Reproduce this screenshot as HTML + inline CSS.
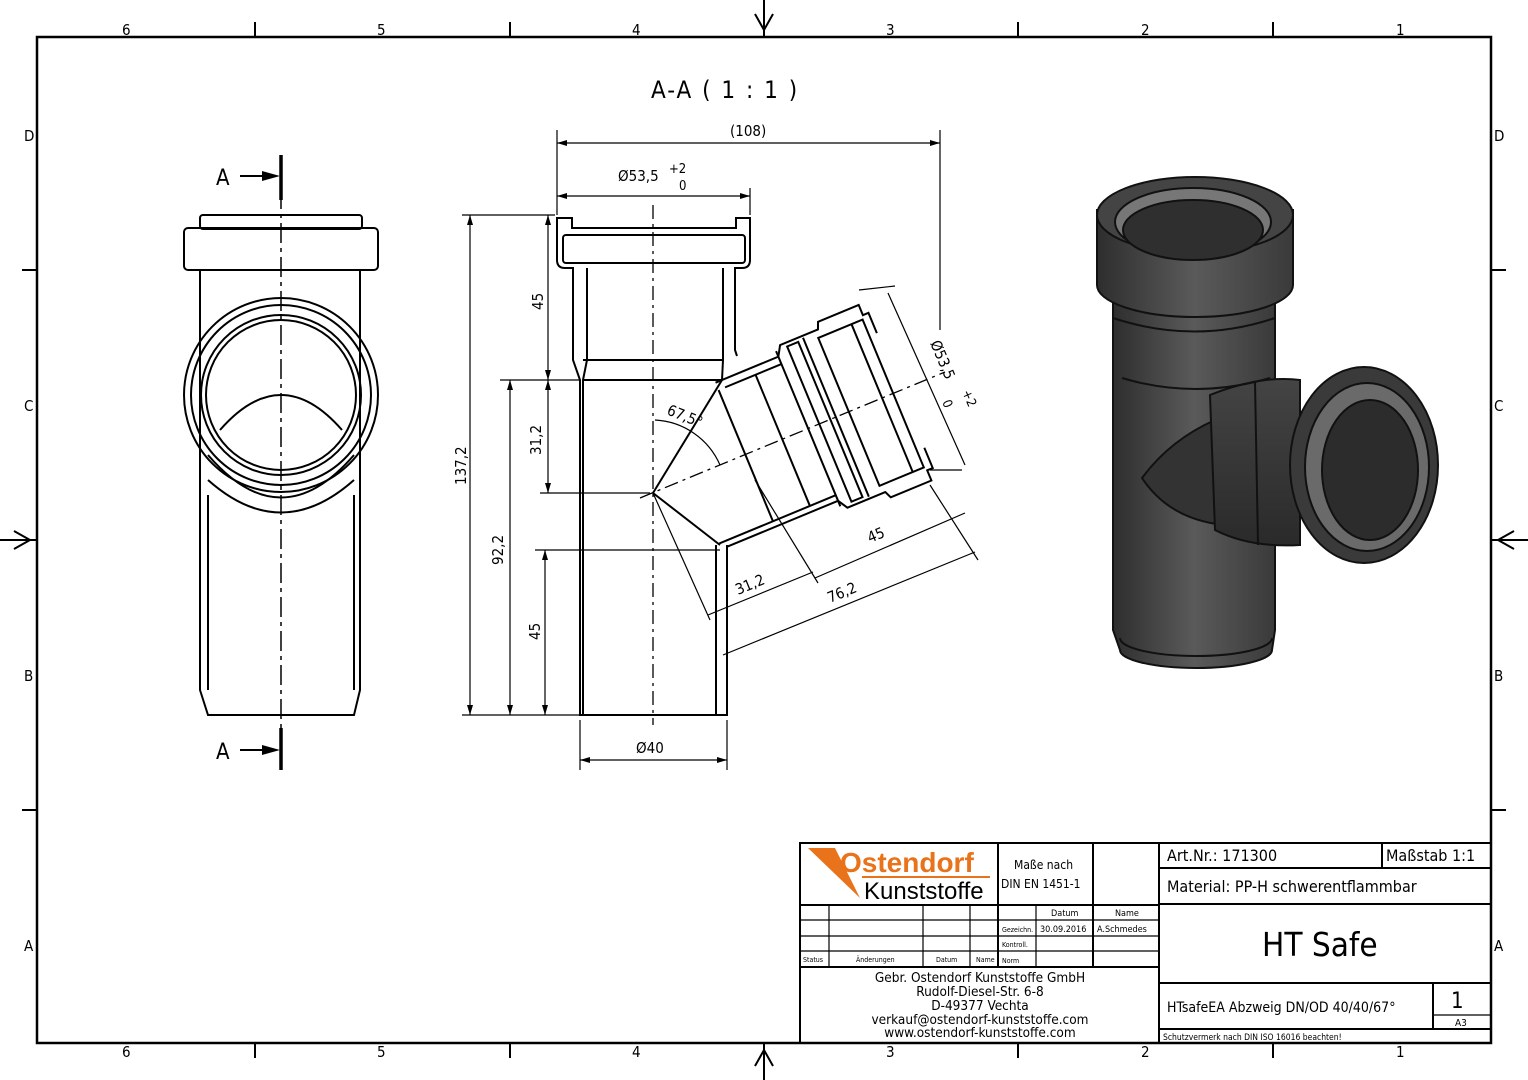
<!DOCTYPE html>
<html><head><meta charset="utf-8"><style>
html,body{margin:0;padding:0;background:#fff;}
svg{display:block;}
text{font-family:"DejaVu Sans Condensed","Liberation Sans",sans-serif;fill:#000;}
</style></head><body>
<svg width="1528" height="1080" viewBox="0 0 1528 1080" xmlns="http://www.w3.org/2000/svg">
<defs>
<linearGradient id="g1" x1="0" x2="1" y1="0" y2="0"><stop offset="0" stop-color="#2e2e2e"/><stop offset="0.5" stop-color="#5a5a5a"/><stop offset="1" stop-color="#3a3a3a"/></linearGradient>
<linearGradient id="g2" x1="0" x2="0" y1="0" y2="1"><stop offset="0" stop-color="#444"/><stop offset="1" stop-color="#2a2a2a"/></linearGradient>
</defs>
<rect x="37" y="37" width="1454" height="1006" fill="none" stroke="#000" stroke-width="2.5"/>
<g stroke="#000" stroke-width="2">
<line x1="255" y1="22" x2="255" y2="37"/><line x1="510" y1="22" x2="510" y2="37"/><line x1="1018" y1="22" x2="1018" y2="37"/><line x1="1273" y1="22" x2="1273" y2="37"/>
<line x1="255" y1="1043" x2="255" y2="1058"/><line x1="510" y1="1043" x2="510" y2="1058"/><line x1="1018" y1="1043" x2="1018" y2="1058"/><line x1="1273" y1="1043" x2="1273" y2="1058"/>
<line x1="22" y1="270" x2="37" y2="270"/><line x1="22" y1="810" x2="37" y2="810"/><line x1="1491" y1="270" x2="1506" y2="270"/><line x1="1491" y1="810" x2="1506" y2="810"/>
<line x1="764" y1="0" x2="764" y2="37"/><line x1="764" y1="1043" x2="764" y2="1080"/>
<line x1="0" y1="540" x2="37" y2="540"/><line x1="1491" y1="540" x2="1528" y2="540"/>
</g>
<g fill="none" stroke="#000" stroke-width="2">
<path d="M755,14 L764,30 L773,14"/><path d="M755,1066 L764,1050 L773,1066"/>
<path d="M14,531 L30,540 L14,549"/><path d="M1514,531 L1498,540 L1514,549"/>
</g>
<g font-size="15">
<text x="122" y="35">6</text><text x="377" y="35">5</text><text x="632" y="35">4</text><text x="886" y="35">3</text><text x="1141" y="35">2</text><text x="1396" y="35">1</text>
<text x="122" y="1057">6</text><text x="377" y="1057">5</text><text x="632" y="1057">4</text><text x="886" y="1057">3</text><text x="1141" y="1057">2</text><text x="1396" y="1057">1</text>
<text x="24" y="141">D</text><text x="24" y="411">C</text><text x="24" y="681">B</text><text x="24" y="951">A</text>
<text x="1494" y="141">D</text><text x="1494" y="411">C</text><text x="1494" y="681">B</text><text x="1494" y="951">A</text>
</g>

<!-- left view -->
<g fill="none" stroke="#000" stroke-width="2">
<rect x="200" y="215" width="162" height="14" rx="3"/>
<rect x="184" y="228" width="194" height="42" rx="4"/>
<path d="M200,270 L200,690 L208,715 L354,715 L360,690 L360,270"/>
<circle cx="281" cy="395" r="97"/><circle cx="281" cy="395" r="90"/><circle cx="281" cy="395" r="80"/><circle cx="281" cy="395" r="75"/>
<path d="M208,455 Q281,540 354,455"/><path d="M208,480 Q281,545 354,480"/><path d="M208,495 L208,690"/><path d="M354,495 L354,690"/>
<path d="M220,430 Q281,360 342,430"/>
</g>
<line x1="281" y1="155" x2="281" y2="770" stroke="#000" stroke-width="1.5" stroke-dasharray="20,5,4,5"/>
<g stroke="#000" stroke-width="3.5"><line x1="281" y1="155" x2="281" y2="200"/><line x1="281" y1="728" x2="281" y2="770"/></g>
<g stroke="#000" stroke-width="2"><line x1="240" y1="176" x2="270" y2="176"/><line x1="240" y1="750" x2="270" y2="750"/></g>
<path d="M262,171 L280,176 L262,181Z M262,745 L280,750 L262,755Z" fill="#000"/>
<text x="216" y="185" font-size="22">A</text><text x="216" y="759" font-size="22">A</text>

<!-- section view -->
<text x="651" y="98" font-size="24" letter-spacing="2">A-A ( 1 : 1 )</text>
<g fill="none" stroke="#000" stroke-width="2">
<path d="M557,225 L557,260 Q557,268 565,268 L573,268 L573,360 L580,380 L580,715 L727,715 L727,545"/>
<path d="M750,225 L750,260 Q750,268 742,268 L735,268 L735,350 L737,356"/>
<path d="M557,225 L557,218 L572,218 L572,228 L736,228 L736,218 L750,218 L750,225"/>
<rect x="563" y="235" width="182" height="28" rx="3"/>
<path d="M587,268 L587,360 L583,380 L583,715"/>
<path d="M723,268 L723,360 L722,380"/>
<line x1="583" y1="360" x2="723" y2="360"/>
<line x1="583" y1="380" x2="722" y2="380"/>
<path d="M716,545 L716,715"/>
<path d="M653,493 L722,380"/>
<path d="M653,493 L720,545"/>
</g>
<g transform="translate(653,493) rotate(-22.5)" fill="none" stroke="#000" stroke-width="2">
<path d="M100,-78 L168,-78 L174,-88 L215,-88 L218,-95 L262,-95 L262,-84 L268,-84 L268,-62"/>
<path d="M47,78 L168,78 L174,88 L215,88 L218,95 L262,95 L262,84 L268,84 L268,62"/>
<path d="M107,-70 L168,-70 M42,72 L168,72"/>
<line x1="100" y1="-70" x2="100" y2="72"/>
<line x1="140" y1="-70" x2="140" y2="72"/>
<line x1="168" y1="-84" x2="168" y2="84"/>
<rect x="180" y="-84" width="12" height="168"/>
<line x1="198" y1="-86" x2="198" y2="86"/>
<rect x="212" y="-80" width="48" height="160"/>
<line x1="248" y1="-80" x2="248" y2="80"/>
</g>
<line x1="653" y1="205" x2="653" y2="725" stroke="#000" stroke-width="1.3" stroke-dasharray="14,5,3,5"/>
<line x1="640" y1="498" x2="945" y2="372" stroke="#000" stroke-width="1.3" stroke-dasharray="14,5,3,5"/>
<g stroke="#000" stroke-width="1.2" fill="none">
<line x1="557" y1="215" x2="557" y2="130"/><line x1="940" y1="130" x2="940" y2="330"/><line x1="557" y1="143" x2="940" y2="143"/>
<line x1="750" y1="215" x2="750" y2="188"/><line x1="557" y1="196" x2="750" y2="196"/>
<line x1="462" y1="215" x2="555" y2="215"/><line x1="470" y1="215" x2="470" y2="715"/>
<line x1="540" y1="380" x2="580" y2="380"/><line x1="548" y1="215" x2="548" y2="493"/>
<line x1="500" y1="380" x2="540" y2="380"/><line x1="510" y1="380" x2="510" y2="715"/>
<line x1="540" y1="493" x2="650" y2="493"/>
<line x1="535" y1="550" x2="720" y2="550"/><line x1="545" y1="550" x2="545" y2="715"/>
<line x1="462" y1="715" x2="580" y2="715"/>
<line x1="580" y1="720" x2="580" y2="770"/><line x1="727" y1="720" x2="727" y2="770"/><line x1="580" y1="760" x2="727" y2="760"/>
<path d="M655,420 A75,75 0 0 1 720,465"/>
<line x1="859" y1="290" x2="895" y2="286"/><line x1="962" y1="470" x2="930" y2="470"/>
<line x1="888" y1="293" x2="965" y2="465"/>
<line x1="653" y1="493" x2="710" y2="620"/><line x1="755" y1="480" x2="818" y2="583"/>
<line x1="930" y1="485" x2="978" y2="560"/>
<line x1="708" y1="615" x2="813" y2="572"/><line x1="815" y1="578" x2="965" y2="513"/>
<line x1="723" y1="655" x2="975" y2="552"/>
</g>
<g fill="#000">
<path d="M557,143 l10,-3 v6z M940,143 l-10,-3 v6z M557,196 l10,-3 v6z M750,196 l-10,-3 v6z"/>
<path d="M470,215 l-3,10 h6z M470,715 l-3,-10 h6z M548,215 l-3,10 h6z M548,380 l-3,-10 h6z M548,380 l-3,10 h6z M548,493 l-3,-10 h6z"/>
<path d="M510,380 l-3,10 h6z M510,715 l-3,-10 h6z M545,550 l-3,10 h6z M545,715 l-3,-10 h6z"/>
<path d="M580,760 l10,-3 v6z M727,760 l-10,-3 v6z"/>
</g>
<g font-size="15">
<text x="730" y="136">(108)</text>
<text x="618" y="181">Ø53,5</text><text x="669" y="173" font-size="13">+2</text><text x="679" y="190" font-size="13">0</text>
<text x="636" y="753">Ø40</text>
<text transform="translate(543,310) rotate(-90)">45</text>
<text transform="translate(541,455) rotate(-90)">31,2</text>
<text transform="translate(466,485) rotate(-90)">137,2</text>
<text transform="translate(503,565) rotate(-90)">92,2</text>
<text transform="translate(540,640) rotate(-90)">45</text>
<text transform="translate(666,414) rotate(22)">67,5°</text>
<text transform="translate(930,343) rotate(67)">Ø53,5</text><text transform="translate(962,392) rotate(67)" font-size="13">+2</text><text transform="translate(942,402) rotate(67)" font-size="13">0</text>
<text transform="translate(870,543) rotate(-22.5)">45</text>
<text transform="translate(738,595) rotate(-22.5)">31,2</text>
<text transform="translate(830,603) rotate(-22.5)">76,2</text>
</g>

<!-- 3D render -->
<g stroke="#111" stroke-width="2">
<path d="M1113,300 L1113,630 L1120,650 A76,18 0 0 0 1272,650 L1275,630 L1275,300Z" fill="url(#g1)"/>
<path d="M1120,638 A76,18 0 0 0 1272,638" fill="none"/>
<path d="M1142,478 Q1170,440 1215,420 L1225,525 Q1170,520 1142,478Z" fill="#333"/>
<path d="M1210,395 Q1260,375 1300,380 L1300,545 Q1250,548 1215,530Z" fill="url(#g2)"/>
<line x1="1255" y1="382" x2="1258" y2="545" fill="none"/>
<ellipse cx="1364" cy="465" rx="74" ry="98" fill="#3a3a3a"/>
<ellipse cx="1367" cy="467" rx="62" ry="84" fill="#6a6a6a"/>
<ellipse cx="1370" cy="470" rx="48" ry="70" fill="#2c2c2c"/>
<path d="M1097,210 L1097,285 A98,32 0 0 0 1293,285 L1293,210Z" fill="url(#g1)"/>
<ellipse cx="1195" cy="215" rx="98" ry="38" fill="#444"/>
<ellipse cx="1193" cy="222" rx="78" ry="34" fill="#777"/>
<ellipse cx="1193" cy="230" rx="70" ry="30" fill="#2f2f2f"/>
<path d="M1113,318 Q1195,345 1275,318" fill="none"/>
<path d="M1122,378 Q1195,400 1270,378" fill="none"/>
</g>

<!-- title block -->
<g fill="none" stroke="#000" stroke-width="2">
<rect x="800" y="843" width="691" height="200"/>
<line x1="1159" y1="843" x2="1159" y2="1043"/>
<line x1="1159" y1="868" x2="1491" y2="868"/><line x1="1382" y1="843" x2="1382" y2="868"/>
<line x1="1159" y1="904" x2="1491" y2="904"/>
<line x1="1159" y1="983" x2="1491" y2="983"/>
<line x1="1159" y1="1029" x2="1491" y2="1029"/>
<line x1="1433" y1="983" x2="1433" y2="1029"/><line x1="1433" y1="1015" x2="1491" y2="1015" stroke-width="1.2"/>
<line x1="800" y1="905" x2="1159" y2="905"/>
<line x1="800" y1="967" x2="1159" y2="967"/>
<line x1="998" y1="843" x2="998" y2="967"/><line x1="1093" y1="843" x2="1093" y2="967"/>
</g>
<g stroke="#000" stroke-width="1.2">
<line x1="800" y1="920" x2="1159" y2="920"/><line x1="800" y1="936" x2="1159" y2="936"/><line x1="800" y1="951" x2="1159" y2="951"/>
<line x1="829" y1="905" x2="829" y2="967"/><line x1="923" y1="905" x2="923" y2="967"/><line x1="970" y1="905" x2="970" y2="967"/>
<line x1="1036" y1="905" x2="1036" y2="967"/>
</g>
<path d="M808,848 L835,848 L860,898Z" fill="#e8731a"/>
<text x="840" y="872" font-size="28" style="fill:#e8731a;font-family:'Liberation Sans',sans-serif;font-weight:bold">Ostendorf</text>
<line x1="862" y1="877" x2="990" y2="877" stroke="#e8731a" stroke-width="2"/>
<text x="864" y="899" font-size="24" style="font-family:'Liberation Sans',sans-serif">Kunststoffe</text>
<g font-size="12">
<text x="1014" y="869">Maße nach</text><text x="1001" y="888">DIN EN 1451-1</text>
</g>
<g font-size="9">
<text x="1051" y="916">Datum</text><text x="1115" y="916">Name</text>
<text x="1002" y="932" font-size="7">Gezeichn.</text><text x="1040" y="932">30.09.2016</text><text x="1097" y="932">A.Schmedes</text>
<text x="1002" y="947" font-size="7">Kontroll.</text><text x="1002" y="963" font-size="7">Norm</text>
<text x="803" y="962" font-size="7">Status</text><text x="856" y="962" font-size="7">Änderungen</text><text x="936" y="962" font-size="7">Datum</text><text x="976" y="962" font-size="7">Name</text>
</g>
<g font-size="13.5" text-anchor="middle">
<text x="980" y="982">Gebr. Ostendorf Kunststoffe GmbH</text>
<text x="980" y="996">Rudolf-Diesel-Str. 6-8</text>
<text x="980" y="1010">D-49377 Vechta</text>
<text x="980" y="1024">verkauf@ostendorf-kunststoffe.com</text>
<text x="980" y="1037">www.ostendorf-kunststoffe.com</text>
</g>
<text x="1167" y="861" font-size="16">Art.Nr.: 171300</text>
<text x="1386" y="861" font-size="16">Maßstab 1:1</text>
<text x="1167" y="892" font-size="16">Material: PP-H schwerentflammbar</text>
<text x="1262" y="956" font-size="33">HT Safe</text>
<text x="1167" y="1012" font-size="14">HTsafeEA Abzweig DN/OD 40/40/67°</text>
<text x="1451" y="1008" font-size="22">1</text><text x="1455" y="1026" font-size="10">A3</text>
<text x="1163" y="1040" font-size="8.5">Schutzvermerk nach DIN ISO 16016 beachten!</text>
</svg>
</body></html>
